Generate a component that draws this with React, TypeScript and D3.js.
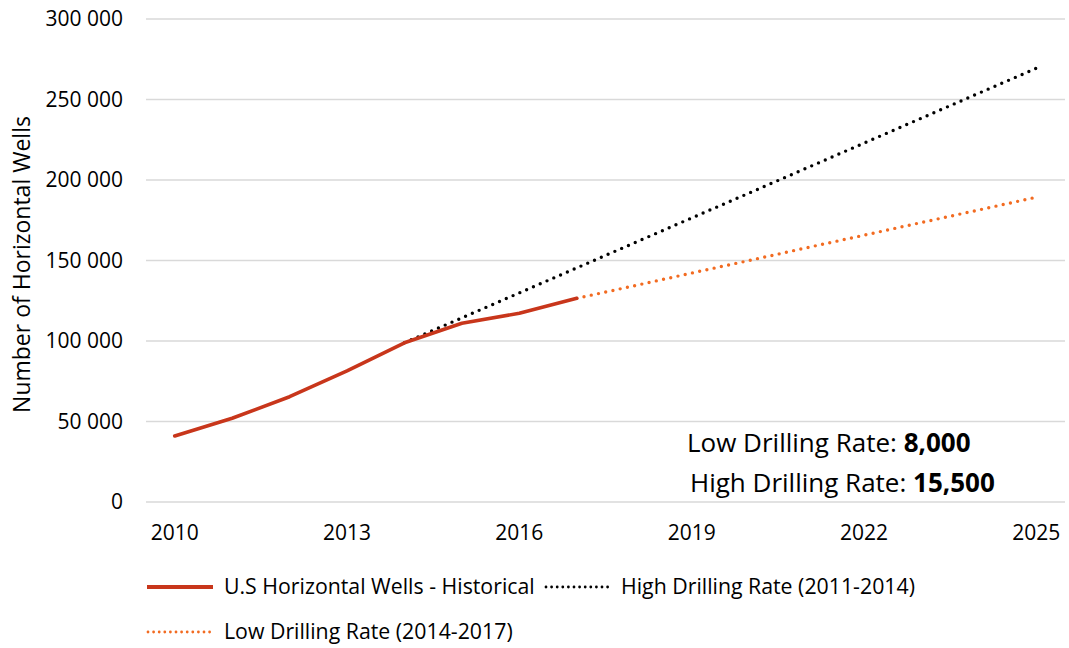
import * as d3 from "d3";

const years = d3.range(2010, 2026).map(String);
const tickYears = ["2010", "2013", "2016", "2019", "2022", "2025"];
const yTicks = [0, 50000, 100000, 150000, 200000, 250000, 300000];

// historical counts
const histYears = ["2010", "2011", "2012", "2013", "2014", "2015", "2016", "2017"];
const histValues = [41000, 52000, 65400, 81500, 98900, 111000, 117200, 126500];

// high drilling rate projection (≈15,500 / yr)
const highYears = ["2014", "2015", "2016", "2017", "2018", "2019", "2020", "2021", "2022", "2023", "2024", "2025"];
const highValues = [98900, 114400, 129900, 145400, 160900, 176400, 191900, 207400, 222900, 238400, 253900, 269400];

// low drilling rate projection (≈8,000 / yr)
const lowYears = ["2017", "2018", "2019", "2020", "2021", "2022", "2023", "2024", "2025"];
const lowValues = [126500, 134300, 142200, 150000, 157900, 165700, 173600, 181400, 189300];

const font = "'Open Sans', sans-serif";
const RED = "#C8361B";
const ORANGE = "#F26B21";

export default function App() {
  const width = 1069;
  const height = 648;

  const x = d3.scalePoint<string>().domain(years).range([146, 1065]).padding(0.5);
  const y = d3.scaleLinear().domain([0, 300000]).range([502, 19]);

  const line = (ys: string[], vs: number[]) =>
    d3
      .line<number>()
      .x((_, i) => x(ys[i]) as number)
      .y((d) => y(d))(vs) || "";

  const fmt = (v: number) => (v === 0 ? "0" : d3.format(",")(v).replace(/,/g, " "));

  return (
    <svg
      width={width}
      height={height}
      style={{ position: "absolute", left: 0, top: 0, fontFamily: font }}
    >
      <rect width={width} height={height} fill="#fff" />

      {/* gridlines + y labels */}
      {yTicks.map((t) => (
        <g key={t}>
          <line x1={146} x2={1065} y1={y(t)} y2={y(t)} stroke="#D9D9D9" strokeWidth={1.5} />
          <text x={123} y={y(t)} dy="0.35em" textAnchor="end" fontSize={21} fill="#000">
            {fmt(t)}
          </text>
        </g>
      ))}

      <text
        transform={`translate(30,${(y(0) + y(300000)) / 2 + 4}) rotate(-90)`}
        textAnchor="middle"
        fontSize={23}
      >
        Number of Horizontal Wells
      </text>

      {/* x labels */}
      {tickYears.map((t) => (
        <text key={t} x={x(t)} y={540} textAnchor="middle" fontSize={21}>
          {t}
        </text>
      ))}

      {/* series */}
      <path
        d={line(highYears, highValues)}
        fill="none"
        stroke="#000"
        strokeWidth={3.4}
        strokeLinecap="round"
        strokeDasharray="0 7.4"
      />
      <path
        d={line(lowYears, lowValues)}
        fill="none"
        stroke={ORANGE}
        strokeWidth={3.4}
        strokeLinecap="round"
        strokeDasharray="0 7.4"
      />
      <path
        d={line(histYears, histValues)}
        fill="none"
        stroke={RED}
        strokeWidth={3.6}
        strokeLinecap="round"
        strokeLinejoin="round"
      />

      {/* annotation */}
      <text x={687} y={452} fontSize={26}>
        Low Drilling Rate: <tspan fontWeight="bold">8,000</tspan>
      </text>
      <text x={690} y={492} fontSize={26}>
        High Drilling Rate: <tspan fontWeight="bold">15,500</tspan>
      </text>

      {/* legend */}
      <line x1={147} x2={213} y1={587} y2={587} stroke={RED} strokeWidth={4} />
      <text x={224} y={587} dy="0.35em" fontSize={21.3}>
        U.S Horizontal Wells - Historical
      </text>
      <line
        x1={546}
        x2={612}
        y1={587}
        y2={587}
        stroke="#000"
        strokeWidth={2.8}
        strokeLinecap="round"
        strokeDasharray="0 5.6"
      />
      <text x={621} y={587} dy="0.35em" fontSize={21.3}>
        High Drilling Rate (2011-2014)
      </text>
      <line
        x1={148}
        x2={213}
        y1={632}
        y2={632}
        stroke={ORANGE}
        strokeWidth={2.8}
        strokeLinecap="round"
        strokeDasharray="0 5.6"
      />
      <text x={224} y={632} dy="0.35em" fontSize={21.3}>
        Low Drilling Rate (2014-2017)
      </text>
    </svg>
  );
}
